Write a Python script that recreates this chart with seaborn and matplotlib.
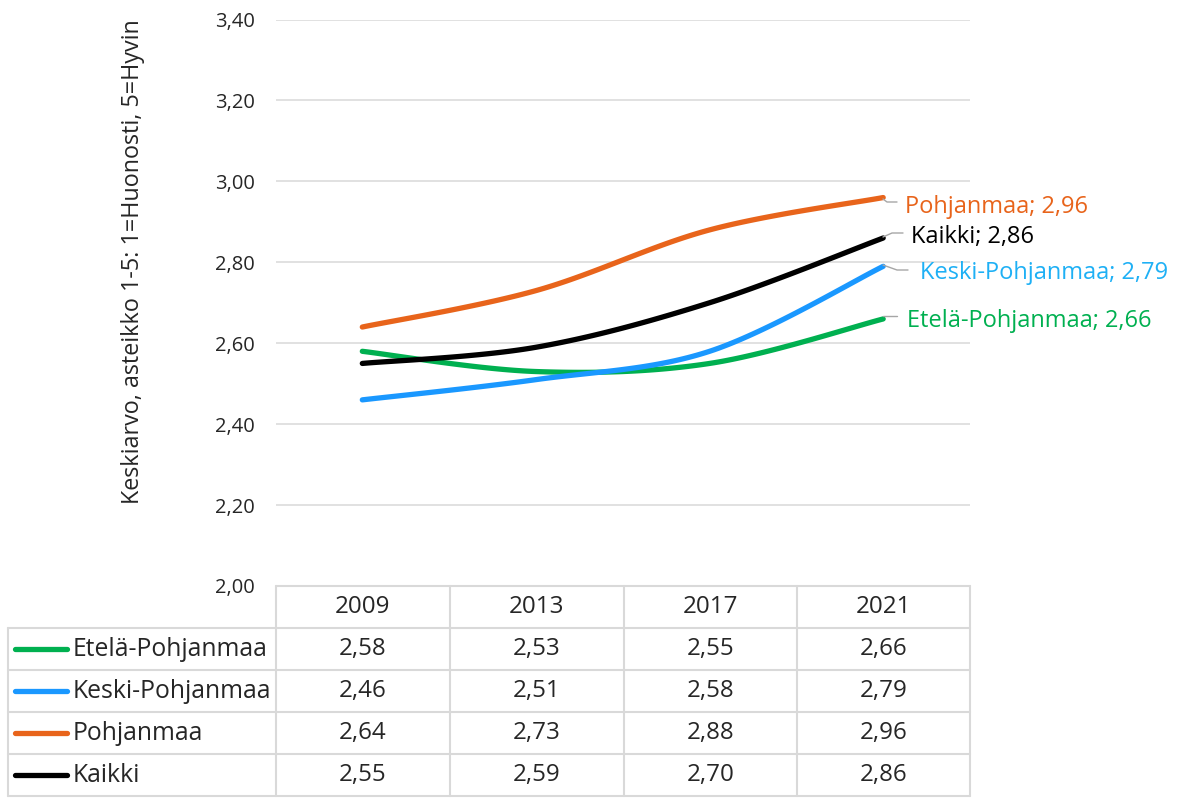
import numpy as np
import pandas as pd
import matplotlib
matplotlib.use("Agg")
import matplotlib.pyplot as plt
from matplotlib.lines import Line2D
import seaborn as sns

years = ["2009", "2013", "2017", "2021"]
series_names = ["Etelä-Pohjanmaa", "Keski-Pohjanmaa", "Pohjanmaa", "Kaikki"]
etela = [2.58, 2.53, 2.55, 2.66]
keski = [2.46, 2.51, 2.58, 2.79]
pohjanmaa = [2.64, 2.73, 2.88, 2.96]
kaikki = [2.55, 2.59, 2.70, 2.86]
y_ticks = [2.00, 2.20, 2.40, 2.60, 2.80, 3.00, 3.20, 3.40]
y_label = "Keskiarvo, asteikko 1-5: 1=Huonosti, 5=Hyvin"

values = [etela, keski, pohjanmaa, kaikki]
line_colors = ["#00B050", "#1A98FF", "#E8641B", "#000000"]
label_colors = ["#00B050", "#1EB0F5", "#E8641B", "#000000"]

sns.set_theme(style="white")
plt.rcParams["font.family"] = ["Open Sans", "DejaVu Sans"]

W, H = 1179, 800
fig = plt.figure(figsize=(W / 100, H / 100), dpi=100)

def fx(px):
    return px / W

def fy(py):
    return 1 - py / H

L, R, T, B = 275.5, 970, 19.5, 586
ax = fig.add_axes([fx(L), fy(B), fx(R) - fx(L), fy(T) - fy(B)])
ax.set_xlim(-0.5, 3.5)
ax.set_ylim(2.0, 3.4)

def smooth(xs, ys, n=40):
    pts = np.column_stack([xs, ys]).astype(float)
    out = []
    m = len(pts)
    for i in range(m - 1):
        p0 = pts[i - 1] if i > 0 else pts[i]
        p1 = pts[i]
        p2 = pts[i + 1]
        p3 = pts[i + 2] if i + 2 < m else pts[i + 1]
        c1 = p1 + (p2 - p0) / 6.0
        c2 = p2 - (p3 - p1) / 6.0
        t = np.linspace(0, 1, n, endpoint=(i == m - 2))[:, None]
        seg = ((1 - t) ** 3) * p1 + 3 * ((1 - t) ** 2) * t * c1 + 3 * (1 - t) * t ** 2 * c2 + t ** 3 * p2
        out.append(seg)
    return np.vstack(out)

xpos = np.arange(len(years))
for name, vals, col in zip(series_names, values, line_colors):
    cur = smooth(xpos, vals)
    df = pd.DataFrame({"x": cur[:, 0], "y": cur[:, 1]})
    sns.lineplot(data=df, x="x", y="y", sort=False, estimator=None, ax=ax,
                 color=col, linewidth=3.8, solid_capstyle="round")

ax.set_yticks(y_ticks)
ax.set_yticklabels([f"{v:.2f}".replace(".", ",") for v in y_ticks], fontsize=14.5)
ax.set_xticks([])
ax.set_xlabel("")
ax.set_ylabel("")
for s in ax.spines.values():
    s.set_visible(False)
ax.tick_params(axis="y", length=0, pad=15)
ax.grid(axis="y", color="#D9D9D9", linewidth=1.1)
ax.set_axisbelow(True)

fig.text(fx(133), fy(262), y_label, rotation=90, ha="center", va="center", fontsize=16.8)

# data labels with leader lines (last point)
lab_pos = {
    "Pohjanmaa": ((905, 207), [(883, 199), (887, 202), (897, 202)]),
    "Kaikki": ((911, 237), [(883, 237), (892, 233), (903, 233)]),
    "Keski-Pohjanmaa": ((920, 273), [(883, 265), (897, 270), (908, 270)]),
    "Etelä-Pohjanmaa": ((907, 321), [(883, 316), (897, 316)]),
}
for name, vals, col in zip(series_names, values, label_colors):
    (tx, ty), leader = lab_pos[name]
    fig.text(fx(tx), fy(ty), f"{name}; {vals[-1]:.2f}".replace(".", ","),
             ha="left", va="center", fontsize=17, color=col)
    fig.add_artist(Line2D([fx(p[0]) for p in leader], [fy(p[1]) for p in leader],
                          color="#A6A6A6", linewidth=1.0))

# data table
gc = "#D9D9D9"
col_edges = [275.5, 449.5, 623.5, 797, 970]
row_edges = [586, 628, 670, 712, 754, 796]
tl = 8

def hline(x0, x1, y):
    fig.add_artist(Line2D([fx(x0), fx(x1)], [fy(y), fy(y)], color=gc, linewidth=1.5))

def vline(x, y0, y1):
    fig.add_artist(Line2D([fx(x), fx(x)], [fy(y0), fy(y1)], color=gc, linewidth=1.5))

hline(col_edges[0], col_edges[-1], row_edges[0])
for y in row_edges[1:]:
    hline(tl, col_edges[-1], y)
for x in col_edges:
    vline(x, row_edges[0], row_edges[-1])
vline(tl, row_edges[1], row_edges[-1])

tfs = 17.4
for j, yr in enumerate(years):
    cx = (col_edges[j] + col_edges[j + 1]) / 2
    fig.text(fx(cx), fy((row_edges[0] + row_edges[1]) / 2), yr, ha="center", va="center", fontsize=tfs)

for i, (name, vals, col) in enumerate(zip(series_names, values, line_colors)):
    cy = (row_edges[i + 1] + row_edges[i + 2]) / 2
    fig.add_artist(Line2D([fx(15), fx(67)], [fy(cy), fy(cy)], color=col, linewidth=3.8,
                          solid_capstyle="round"))
    fig.text(fx(73), fy(cy), name, ha="left", va="center", fontsize=17.8)
    for j, v in enumerate(vals):
        cx = (col_edges[j] + col_edges[j + 1]) / 2
        fig.text(fx(cx), fy(cy), f"{v:.2f}".replace(".", ","), ha="center", va="center", fontsize=tfs)

fig.savefig("out.png", dpi=100)
